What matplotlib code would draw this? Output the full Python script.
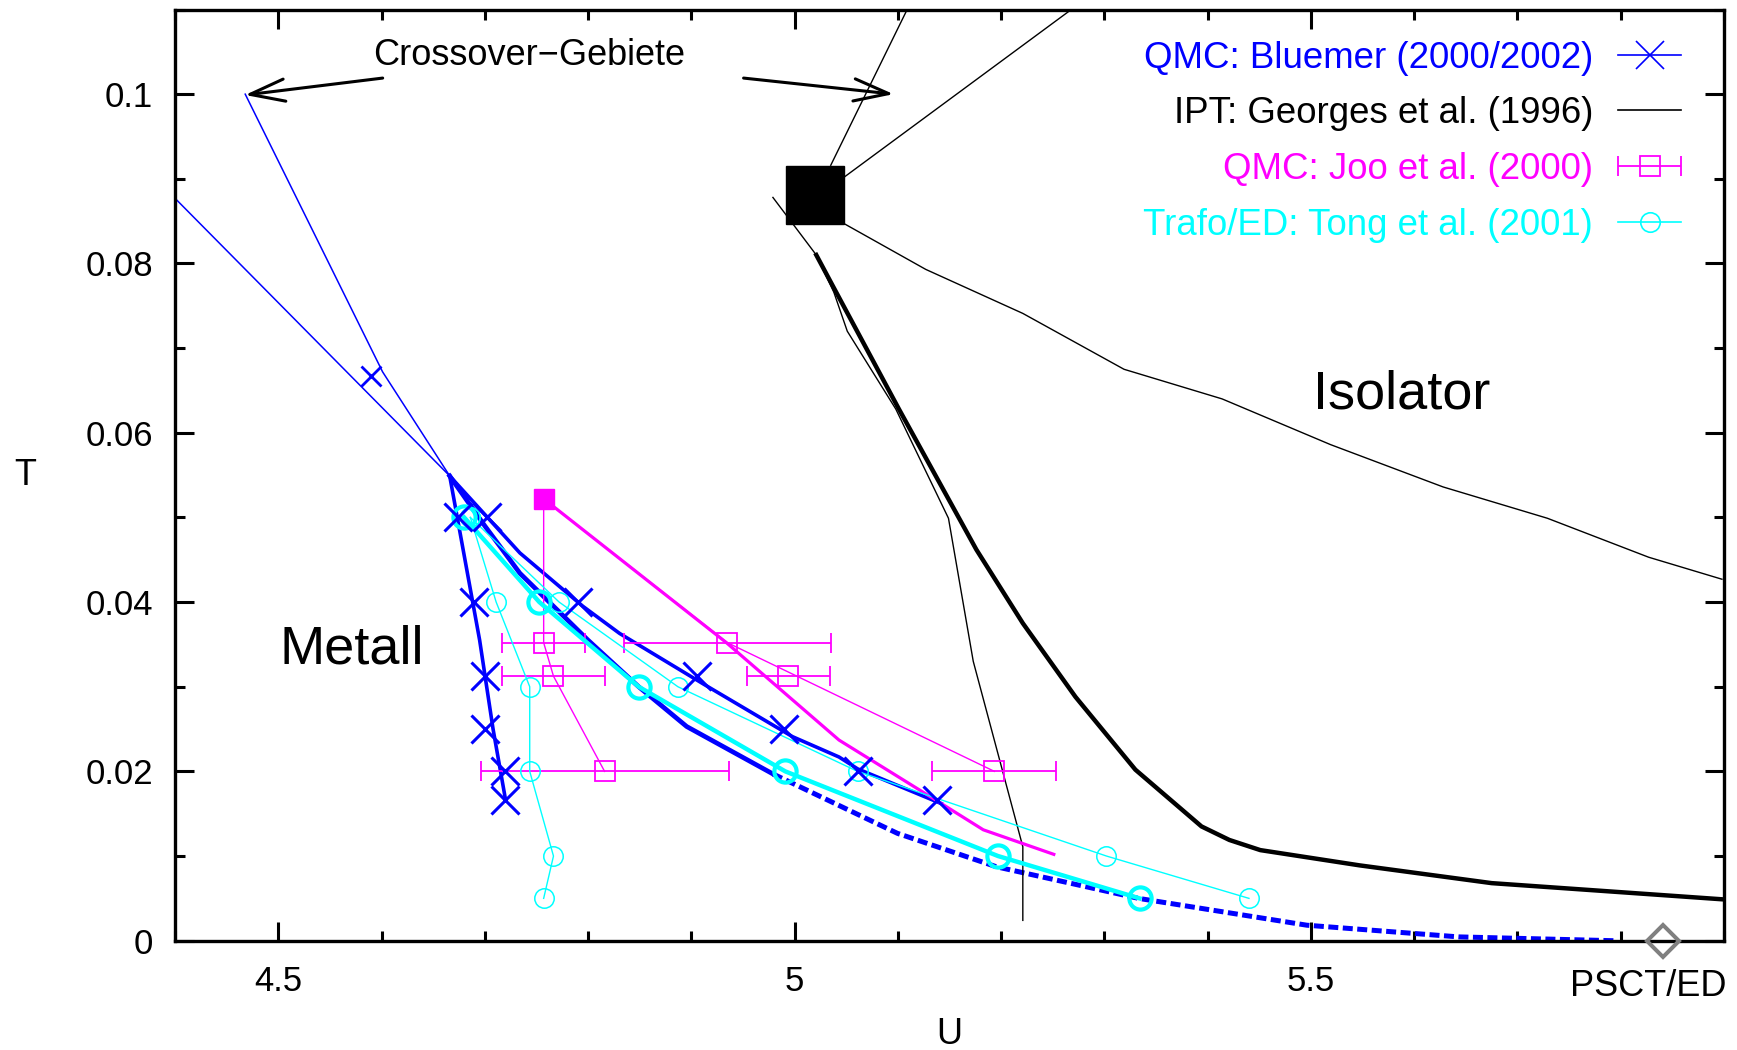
import matplotlib.pyplot as plt
from matplotlib.legend_handler import HandlerErrorbar
from matplotlib.lines import Line2D
from matplotlib.ticker import MultipleLocator, FixedLocator, FixedFormatter

plt.rcParams['font.family'] = ['Liberation Sans', 'DejaVu Sans']

BLUE = '#0000ff'
MAGENTA = '#ff00ff'
CYAN = '#00ffff'

# --- QMC: Bluemer (2000/2002) ---
qmc_u = [4.674, 4.702, 4.690, 4.700, 4.700, 4.720, 4.720, 4.790, 4.905, 4.990, 5.061, 5.138]
qmc_t = [0.05, 0.05, 0.04, 0.03125, 0.025, 0.02, 0.01667, 0.04, 0.03125, 0.025, 0.02, 0.01667]
qmc_small_u = [4.590]
qmc_small_t = [0.0667]
# crossover lines (thin)
cross1_u = [4.468, 4.601, 4.666]
cross1_t = [0.100, 0.0672, 0.0549]
cross2_u = [4.400, 4.666]
cross2_t = [0.0877, 0.0549]
# Uc1 / Uc2 / Uc lines (thick)
uc1_u = [4.666, 4.695, 4.708, 4.720]
uc1_t = [0.0549, 0.0355, 0.025, 0.0167]
uc2_u = [4.666, 4.734, 4.795, 4.8305, 4.912, 4.998, 5.043, 5.061, 5.142]
uc2_t = [0.0549, 0.0458, 0.0395, 0.0363, 0.0303, 0.0241, 0.0217, 0.0203, 0.0162]
uc_u = [4.666, 4.700, 4.734, 4.800, 4.849, 4.8955, 4.979]
uc_t = [0.0549, 0.0490, 0.0434, 0.0355, 0.0300, 0.0253, 0.0197]
uc_ext_u = [4.979, 5.0996, 5.1955, 5.333, 5.496, 5.643, 5.793]
uc_ext_t = [0.0197, 0.01268, 0.00873, 0.0050, 0.00183, 0.00045, 0.0]

# --- IPT: Georges et al. (1996) ---
ipt_cp_u = [5.020]
ipt_cp_t = [0.0881]
ipt_uc1_u = [4.979, 5.021, 5.038, 5.051, 5.098, 5.149, 5.173, 5.221, 5.221]
ipt_uc1_t = [0.0878, 0.081, 0.0766, 0.072, 0.0628, 0.0499, 0.033, 0.0111, 0.0024]
ipt_uc2_u = [5.021, 5.035, 5.101, 5.176, 5.221, 5.272, 5.330, 5.394, 5.421, 5.451, 5.547, 5.675, 5.897]
ipt_uc2_t = [0.081, 0.0778, 0.0628, 0.0462, 0.0375, 0.0288, 0.0202, 0.0135, 0.0119, 0.0107, 0.0089, 0.0068, 0.0049]
ipt_cr1_u = [5.035, 5.109]
ipt_cr1_t = [0.0916, 0.110]
ipt_cr2_u = [5.048, 5.268]
ipt_cr2_t = [0.0902, 0.110]
ipt_cr3_u = [5.048, 5.127, 5.221, 5.319, 5.414, 5.519, 5.628, 5.729, 5.827, 5.898]
ipt_cr3_t = [0.0847, 0.0793, 0.0741, 0.0675, 0.064, 0.0586, 0.0536, 0.0499, 0.0453, 0.0427]

# --- QMC: Joo et al. (2000) ---
joo_cp_u = [4.757]
joo_cp_t = [0.0522]
joo_u = [4.757, 4.935, 4.7665, 4.994, 4.816, 5.1935]
joo_t = [0.0352, 0.0352, 0.03125, 0.03125, 0.02, 0.02]
joo_du = [0.04, 0.10, 0.05, 0.04, 0.12, 0.06]
joo_l1_u = [4.757, 4.757, 4.7665, 4.816]
joo_l1_t = [0.0522, 0.0352, 0.03125, 0.02]
joo_l2_u = [4.757, 4.935, 5.1935]
joo_l2_t = [0.0522, 0.0352, 0.02]
joo_l3_u = [4.757, 4.934, 5.043, 5.1316, 5.1827, 5.251]
joo_l3_t = [0.0522, 0.0352, 0.0237, 0.017, 0.0131, 0.0102]

# --- Trafo/ED: Tong et al. (2001) ---
tong_t = [0.05, 0.04, 0.03, 0.02, 0.01, 0.005]
tong_uc_u = [4.680, 4.7528, 4.849, 4.991, 5.197, 5.334]
tong_uc2_u = [4.686, 4.772, 4.887, 5.061, 5.302, 5.440]
tong_uc1_u = [4.686, 4.711, 4.7435, 4.7435, 4.7665, 4.757]

# PSCT/ED
psct_u = [5.841]
psct_t = [0.0]

fig = plt.figure(figsize=(17.37, 10.5), dpi=100)
ax = fig.add_axes([0.10075, 0.10410, 0.99252 - 0.10075, 0.99095 - 0.10410])

# blue
ax.plot(cross1_u, cross1_t, '-', color=BLUE, lw=1.1)
ax.plot(cross2_u, cross2_t, '-', color=BLUE, lw=1.1)
ax.plot(uc1_u, uc1_t, '-', color=BLUE, lw=2.6)
ax.plot(uc2_u, uc2_t, '-', color=BLUE, lw=2.6)
ax.plot(uc_u, uc_t, '-', color=BLUE, lw=3.4)
ax.plot(uc_ext_u, uc_ext_t, color=BLUE, lw=3.6, dashes=(2.0, 0.9), dash_capstyle='butt')

# black
ax.plot(ipt_uc1_u, ipt_uc1_t, '-', color='black', lw=1.0)
ax.plot(ipt_uc2_u, ipt_uc2_t, '-', color='black', lw=3.2)
ax.plot(ipt_cr1_u, ipt_cr1_t, '-', color='black', lw=1.0)
ax.plot(ipt_cr2_u, ipt_cr2_t, '-', color='black', lw=1.0)
ax.plot(ipt_cr3_u, ipt_cr3_t, '-', color='black', lw=1.0)
ax.plot(ipt_cp_u, ipt_cp_t, 's', color='black', ms=42)

# magenta
ax.plot(joo_l1_u, joo_l1_t, '-', color=MAGENTA, lw=1.0)
ax.plot(joo_l2_u, joo_l2_t, '-', color=MAGENTA, lw=1.0)
ax.plot(joo_l3_u, joo_l3_t, '-', color=MAGENTA, lw=2.3)
joo_eb = ax.errorbar(joo_u, joo_t, xerr=joo_du, fmt='s', color=MAGENTA, mfc='none',
                     ms=14, mew=1.3, elinewidth=1.3, capsize=7.2, capthick=1.3)
ax.plot(joo_cp_u, joo_cp_t, 's', color=MAGENTA, ms=14)

# cyan
ax.plot(tong_uc1_u, tong_t, '-o', color=CYAN, lw=1.0, ms=14, mfc='none', mew=1.1)
ax.plot(tong_uc2_u, tong_t, '-o', color=CYAN, lw=1.0, ms=14, mfc='none', mew=1.1)
ax.plot(tong_uc_u, tong_t, '-o', color=CYAN, lw=3.2, ms=16, mfc='none', mew=3.0)

# blue markers on top
ax.plot(qmc_u, qmc_t, 'x', color=BLUE, ms=20, mew=2.2)
ax.plot(qmc_small_u, qmc_small_t, 'x', color=BLUE, ms=14, mew=2.0)

# PSCT/ED
ax.plot(psct_u, psct_t, 'D', color='#808080', mfc='none', ms=16.5, mew=2.9, clip_on=False, zorder=5)
ax.text(5.827, -0.00653, 'PSCT/ED', fontsize=26, ha='center', va='baseline')

# texts and arrows
ax.text(4.5917, 0.10346, 'Crossover\u2212Gebiete', fontsize=26, ha='left', va='baseline')
arrow_kw = dict(arrowstyle='->, head_length=1.0, head_width=0.32', lw=2.2, color='black',
                shrinkA=0, shrinkB=0, mutation_scale=25)
ax.annotate('', xy=(4.4678, 0.0999), xytext=(4.6011, 0.1019), arrowprops=arrow_kw)
ax.annotate('', xy=(5.0959, 0.1000), xytext=(4.9506, 0.1019), arrowprops=arrow_kw)
ax.text(5.588, 0.06286, 'Isolator', fontsize=39, ha='center', va='baseline')
ax.text(4.5714, 0.0328, 'Metall', fontsize=39, ha='center', va='baseline')

# axes
ax.set_xlim(4.4, 5.9)
ax.set_ylim(0, 0.11)
ax.xaxis.set_major_locator(FixedLocator([4.5, 5.0, 5.5]))
ax.xaxis.set_major_formatter(FixedFormatter(['4.5', '5', '5.5']))
ax.xaxis.set_minor_locator(MultipleLocator(0.1))
ax.yaxis.set_major_locator(FixedLocator([0, 0.02, 0.04, 0.06, 0.08, 0.1]))
ax.yaxis.set_major_formatter(FixedFormatter(['0', '0.02', '0.04', '0.06', '0.08', '0.1']))
ax.yaxis.set_minor_locator(MultipleLocator(0.01))
ax.tick_params(which='both', direction='in', top=True, right=True, width=2.2)
ax.tick_params(which='major', length=13.5, labelsize=25)
ax.tick_params(axis='x', which='major', pad=17.5)
ax.tick_params(axis='y', which='major', pad=16)
ax.tick_params(which='minor', length=7)
for s in ax.spines.values():
    s.set_linewidth(2.4)

ax.set_xlabel('U', fontsize=26)
ax.xaxis.set_label_coords(0.5, -0.0816)
ax.set_ylabel('T', fontsize=26, rotation=0, va='center', ha='center')
ax.yaxis.set_label_coords(-0.0968, 0.5)

# legend
h_qmc = Line2D([], [], color=BLUE, lw=1.2, marker='x', ms=20, mew=1.2)
h_ipt = Line2D([], [], color='black', lw=1.2)
h_tong = Line2D([], [], color=CYAN, lw=1.2, marker='o', ms=14, mfc='none', mew=1.2)
leg = ax.legend([h_qmc, h_ipt, joo_eb, h_tong],
                ['QMC: Bluemer (2000/2002)', 'IPT: Georges et al. (1996)',
                 'QMC: Joo et al. (2000)', 'Trafo/ED: Tong et al. (2001)'],
                loc='upper right', bbox_to_anchor=(0.97224, 0.9666), frameon=False,
                markerfirst=False, fontsize=26.4, handlelength=1.717, handletextpad=0.68,
                labelspacing=0.565, borderaxespad=0, borderpad=0, numpoints=1,
                labelcolor=[BLUE, 'black', MAGENTA, CYAN],
                handler_map={type(joo_eb): HandlerErrorbar(xerr_size=0.858)})

fig.savefig('out.png', dpi=100)
